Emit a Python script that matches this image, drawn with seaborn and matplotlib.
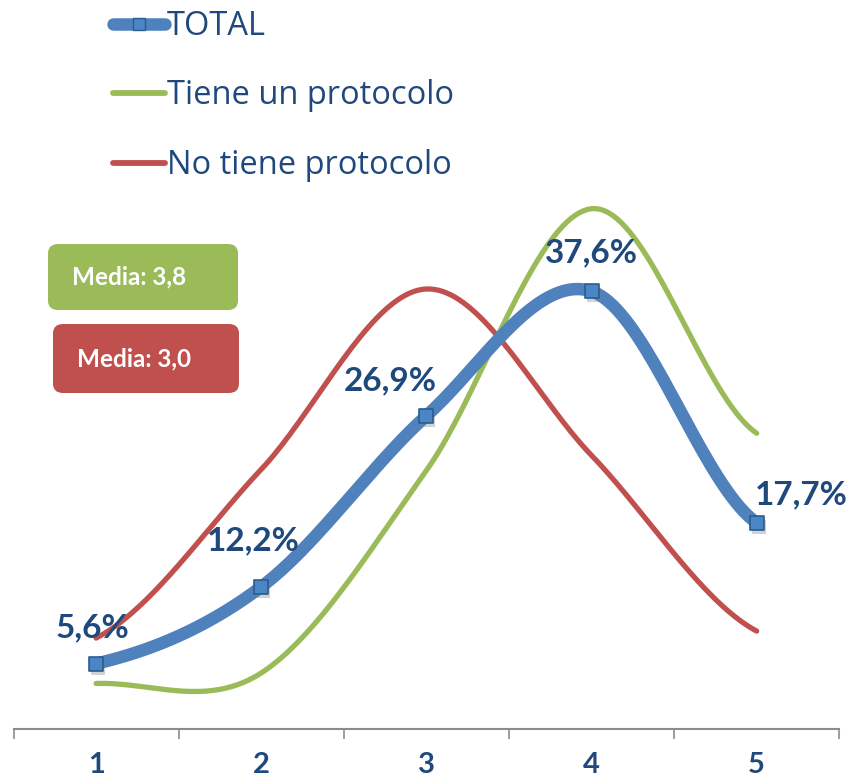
import numpy as np
import pandas as pd
import matplotlib.pyplot as plt
import seaborn as sns
from matplotlib.lines import Line2D
from matplotlib.patches import FancyBboxPatch

categories = ["1", "2", "3", "4", "5"]
total = [5.6, 12.2, 26.9, 37.6, 17.7]
tiene = [3.9, 4.8, 22.2, 44.7, 25.4]
no_tiene = [7.8, 22.3, 37.8, 23.5, 8.4]
series_names = ["TOTAL", "Tiene un protocolo", "No tiene protocolo"]
label_texts = ["5,6%", "12,2%", "26,9%", "37,6%", "17,7%"]
medias = ["Media: 3,8", "Media: 3,0"]

BLUE = "#4F81BD"
GREEN = "#9BBB59"
RED = "#C0504D"
TXT = "#1F497D"


def smooth(y, n=40):
    # catmull-rom curve through the points, like excel's "smoothed line"
    y = np.asarray(y, dtype=float)
    x = np.arange(len(y), dtype=float)
    m = np.zeros_like(y)
    m[1:-1] = (y[2:] - y[:-2]) / 2
    m[0] = (y[1] - y[0]) / 2
    m[-1] = (y[-1] - y[-2]) / 2
    xs, ys = [], []
    for i in range(len(y) - 1):
        t = np.linspace(0, 1, n, endpoint=(i == len(y) - 2))
        h00 = 2 * t**3 - 3 * t**2 + 1
        h10 = t**3 - 2 * t**2 + t
        h01 = -2 * t**3 + 3 * t**2
        h11 = t**3 - t**2
        ys.append(h00 * y[i] + h10 * m[i] + h01 * y[i + 1] + h11 * m[i + 1])
        xs.append(x[i] + t)
    return np.concatenate(xs), np.concatenate(ys)


sns.set_style("white")
plt.rcParams["font.family"] = ["Lato", "DejaVu Sans"]

fig = plt.figure(figsize=(8.46, 7.82), dpi=100)
ax = fig.add_axes([0.016, 0.068, 0.976, 0.744])

rows = []
for name, vals in zip(series_names, [total, tiene, no_tiene]):
    sx, sy = smooth(vals)
    rows.append(pd.DataFrame({"x": sx, "y": sy, "serie": name}))
curves = pd.concat(rows, ignore_index=True)

sns.lineplot(data=curves[curves.serie == "Tiene un protocolo"], x="x", y="y",
             color=GREEN, lw=3.8, sort=False, estimator=None, ax=ax,
             solid_capstyle="round")
sns.lineplot(data=curves[curves.serie == "No tiene protocolo"], x="x", y="y",
             color=RED, lw=3.8, sort=False, estimator=None, ax=ax,
             solid_capstyle="round")
sns.lineplot(data=curves[curves.serie == "TOTAL"], x="x", y="y",
             color=BLUE, lw=9, sort=False, estimator=None, ax=ax,
             solid_capstyle="round")

pts = pd.DataFrame({"x": np.arange(len(categories)), "y": total})
# soft shadow under the markers
ax.scatter(pts.x + 0.012, np.array(total) - 0.35, marker="s", s=100,
           color="gray", alpha=0.35, zorder=4, lw=0)
sns.scatterplot(data=pts, x="x", y="y", marker="s", s=90, color="#4A86C5",
                edgecolor="#2A5D8F", linewidth=1.2, zorder=5, ax=ax)

offsets = [(-3, 26), (-6, 33), (-26, 25), (0, 28), (32, 20)]
for i, (txt, off) in enumerate(zip(label_texts, offsets)):
    ax.annotate(txt, (i, total[i]), xytext=off, textcoords="offset points",
                ha="center", va="center", fontsize=24, fontweight="bold",
                color=TXT, zorder=6)

ax.set_xlim(-0.5, 4.5)
ax.set_ylim(0, 50)
ax.set_xlabel("")
ax.set_ylabel("")
ax.set_yticks([])
ax.set_xticks(np.arange(-0.5, 5, 1))
ax.set_xticklabels([])
ax.set_xticks(np.arange(len(categories)), minor=True)
ax.set_xticklabels(categories, minor=True, fontsize=21, fontweight="bold",
                   color=TXT)
ax.tick_params(axis="x", which="major", length=7, width=1.2, color="#8C8C8C",
               direction="out", bottom=True)
ax.tick_params(axis="x", which="minor", length=0, pad=17)
for s in ["top", "left", "right"]:
    ax.spines[s].set_visible(False)
ax.spines["bottom"].set_color("#8C8C8C")
ax.spines["bottom"].set_linewidth(1.5)

handles = [
    Line2D([], [], color=BLUE, lw=9, solid_capstyle="round", marker="s",
           markersize=9, markerfacecolor="#4A86C5", markeredgecolor="#2A5D8F"),
    Line2D([], [], color=GREEN, lw=4.2, solid_capstyle="round"),
    Line2D([], [], color=RED, lw=4.2, solid_capstyle="round"),
]
leg = fig.legend(handles, series_names, loc="upper left",
                 bbox_to_anchor=(0.118, 1.004), frameon=False, fontsize=23.5,
                 labelcolor=TXT, handlelength=1.6, handletextpad=0.05,
                 labelspacing=1.12, borderaxespad=0)
for t in leg.get_texts():
    t.set_fontfamily(["Open Sans", "DejaVu Sans"])

# media boxes
box_specs = [(48, 244, 190, 66, GREEN), (53, 324, 186, 69, RED)]
for (bx, by, bw, bh, col), txt in zip(box_specs, medias):
    x0 = bx / 846
    y0 = 1 - (by + bh) / 782
    patch = FancyBboxPatch((x0, y0), bw / 846, bh / 782,
                           boxstyle="round,pad=0,rounding_size=0.012",
                           transform=fig.transFigure, facecolor=col,
                           edgecolor="none")
    fig.patches.append(patch)
    fig.text(x0 + 0.028, y0 + bh / 782 / 2, txt, color="white",
             fontsize=17.5, fontweight="bold", ha="left", va="center")

fig.savefig("out.png", dpi=100)
